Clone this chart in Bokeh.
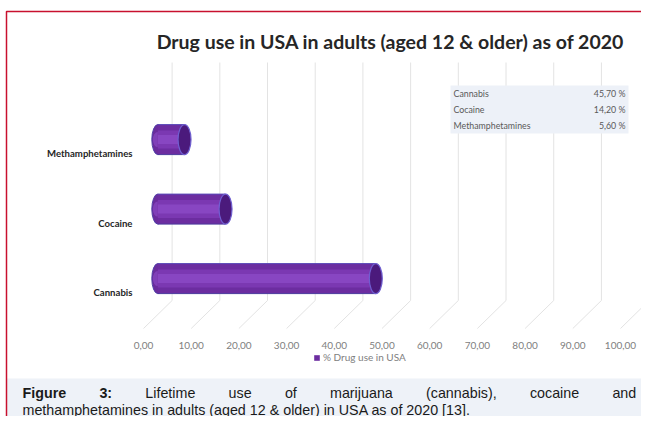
from bokeh.plotting import figure
from bokeh.models import (Range1d, LinearAxis, FixedTicker, CustomJSTickFormatter,
                          Label, Legend, LegendItem, ColumnDataSource)
from bokeh.embed import file_html
from bokeh.resources import INLINE
from bokeh.core.properties import value

# ---------------- data ----------------
categories = ["Cannabis", "Cocaine", "Methamphetamines"]
usage = [45.7, 14.2, 5.6]
usage_labels = ["45,70 %", "14,20 %", "5,60 %"]
x_ticks = [0, 10, 20, 30, 40, 50, 60, 70, 80, 90, 100]
title_text = "Drug use in USA in adults (aged 12 & older) as of 2020"
legend_label = "% Drug use in USA"
caption_line1 = ["Lifetime", "use", "of", "marijuana", "(cannabis),", "cocaine", "and"]
caption_line2 = "methamphetamines in adults (aged 12 & older) in USA as of 2020 [13]."

# ---------------- layout helpers (canvas px -> data) ----------------
W, H = 641, 416
PX = 4.77      # px per % unit
X0 = 143       # canvas x of value 0 on the front plane
PY = 69.5      # px per category step
Y0 = 292       # canvas y of first category on the front plane

def X(c):
    return (c - X0) / PX

def Y(c):
    return (Y0 - c) / PY

D_BAR, DY_BAR = 3.0, 0.2     # depth shift of bars
D_BACK = 6.0                 # depth shift of back wall

p = figure(width=W, height=H, x_range=Range1d(X(0), X(W)), y_range=Range1d(Y(H), Y(0)),
           output_backend="svg", toolbar_location=None, min_border=0,
           x_axis_type=None, y_axis_type=None)
p.outline_line_color = None
p.background_fill_color = "white"
p.border_fill_color = "white"

# caption box background
p.quad(left=X(6), right=X(W), top=Y(378), bottom=Y(H), fill_color="#eef2f8", line_color=None)

# ---------------- 3D gridlines ----------------
gx_back = [t + D_BACK for t in x_ticks]
p.segment(x0=gx_back, y0=[Y(62)] * len(x_ticks), x1=gx_back, y1=[Y(300)] * len(x_ticks),
          line_color="#e3e3e3", line_width=1)
p.segment(x0=gx_back, y0=[Y(300)] * len(x_ticks), x1=x_ticks, y1=[Y(328)] * len(x_ticks),
          line_color="#e3e3e3", line_width=1)

# ---------------- data table ----------------
p.quad(left=X(450), right=X(628), top=Y(85), bottom=Y(133), fill_color="#edf1f8", line_color=None)
rows = [Y(93 + 16 * i) for i in range(len(categories))]
tsrc = ColumnDataSource(dict(x=[X(453)] * len(categories), xr=[X(625)] * len(categories),
                             y=rows, name=categories, val=usage_labels))
p.text(x="x", y="y", text="name", source=tsrc, text_font=value("Lato"), text_font_size="8.8px",
       text_color="#595959", text_baseline="middle", text_align="left")
p.text(x="xr", y="y", text="val", source=tsrc, text_font=value("Lato"), text_font_size="8.8px",
       text_color="#595959", text_baseline="middle", text_align="right")

# ---------------- cylinder bars ----------------
ys = [i + DY_BAR for i in range(len(categories))]
ends = [D_BAR + v for v in usage]
src = ColumnDataSource(dict(y=ys, left=[D_BAR] * len(usage), right=ends,
                            cat=categories, v=usage))
bh = 30 / PY
# left rounded ends (behind body)
p.ellipse(x="left", y="y", width=12, height=30, width_units="screen", height_units="screen",
          source=src, fill_color="#6a2c9c", line_color="#4f3fa8", line_width=1)
p.ellipse(x="left", y="y", width=10, height=15, width_units="screen", height_units="screen",
          source=src, fill_color="#8040b8", line_color=None)
body = p.hbar(y="y", left="left", right="right", height=bh, source=src,
              fill_color="#6c2da0", line_color=None)
p.hbar(y="y", left="left", right="right", height=18 / PY, source=src,
       fill_color="#7b38b2", line_color=None)
p.hbar(y="y", left="left", right="right", height=9 / PY, source=src,
       fill_color="#8846c2", line_color=None)
# top / bottom outline
top_src = ColumnDataSource(dict(x0=[D_BAR] * len(usage), x1=ends,
                                yt=[y + bh / 2 for y in ys], yb=[y - bh / 2 for y in ys]))
p.segment(x0="x0", x1="x1", y0="yt", y1="yt", source=top_src, line_color="#5a48b8", line_width=1)
p.segment(x0="x0", x1="x1", y0="yb", y1="yb", source=top_src, line_color="#4a3a9c", line_width=1)
# right caps
p.ellipse(x="right", y="y", width=13, height=30, width_units="screen", height_units="screen",
          source=src, fill_color="#4b1a7c", line_color="#6f5fd0", line_width=1.2)

# ---------------- axes ----------------
xaxis = LinearAxis(fixed_location=Y(333), ticker=FixedTicker(ticks=x_ticks),
                   formatter=CustomJSTickFormatter(code="return tick.toFixed(2).replace('.', ',')"))
xaxis.axis_line_color = None
xaxis.major_tick_line_color = None
xaxis.minor_tick_line_color = None
xaxis.major_label_standoff = 2
xaxis.major_label_text_font = "Lato"
xaxis.major_label_text_font_size = "10px"
xaxis.major_label_text_color = "#808080"
p.add_layout(xaxis, "below")

yaxis = LinearAxis(fixed_location=X(140), ticker=FixedTicker(ticks=list(range(len(categories)))),
                   major_label_overrides={i: c for i, c in enumerate(categories)})
yaxis.axis_line_color = None
yaxis.major_tick_line_color = None
yaxis.minor_tick_line_color = None
yaxis.major_label_standoff = 2
yaxis.major_label_text_font = "Lato"
yaxis.major_label_text_font_size = "9.6px"
yaxis.major_label_text_font_style = "bold"
yaxis.major_label_text_color = "#262626"
p.add_layout(yaxis, "left")

# ---------------- legend ----------------
legend = Legend(items=[LegendItem(label=legend_label, renderers=[body])],
                location=(313, 53), glyph_width=7, glyph_height=7, label_height=12,
                label_text_font="Lato", label_text_font_size="10px", label_text_color="#808080",
                background_fill_alpha=0, border_line_alpha=0, padding=0, margin=0,
                label_standoff=3, spacing=0)
p.add_layout(legend)

# ---------------- title ----------------
p.add_layout(Label(x=X(390), y=Y(41), text=title_text, text_font="Lato", text_font_size="19.5px",
                   text_font_style="bold", text_color="#262626", text_align="center",
                   text_baseline="middle"))

# ---------------- caption ----------------
cap_font = "Liberation Sans"
cap_size = "14.3px"
cy1, cy2 = 392, 409
p.add_layout(Label(x=X(22), y=Y(cy1), text="Figure", text_font=cap_font, text_font_size=cap_size,
                   text_font_style="bold", text_color="#1a1a1a", text_baseline="middle"))
p.add_layout(Label(x=X(98.9), y=Y(cy1), text="3:", text_font=cap_font, text_font_size=cap_size,
                   text_font_style="bold", text_color="#1a1a1a", text_baseline="middle"))
word_x = [144.8, 228.1, 284.4, 329.5, 425.5, 529.4, 611.9]
for wx, w in zip(word_x, caption_line1):
    p.add_layout(Label(x=X(wx), y=Y(cy1), text=w, text_font=cap_font, text_font_size=cap_size,
                       text_color="#1a1a1a", text_baseline="middle"))
p.add_layout(Label(x=X(22), y=Y(cy2), text=caption_line2, text_font=cap_font,
                   text_font_size=cap_size, text_color="#1a1a1a", text_baseline="middle"))

# ---------------- red frame ----------------
p.line(x=[X(6), X(6), X(W)], y=[Y(H), Y(11), Y(11)], line_color="#c8102e", line_width=1.5)

open("out.html", "w").write(file_html(p, INLINE))
